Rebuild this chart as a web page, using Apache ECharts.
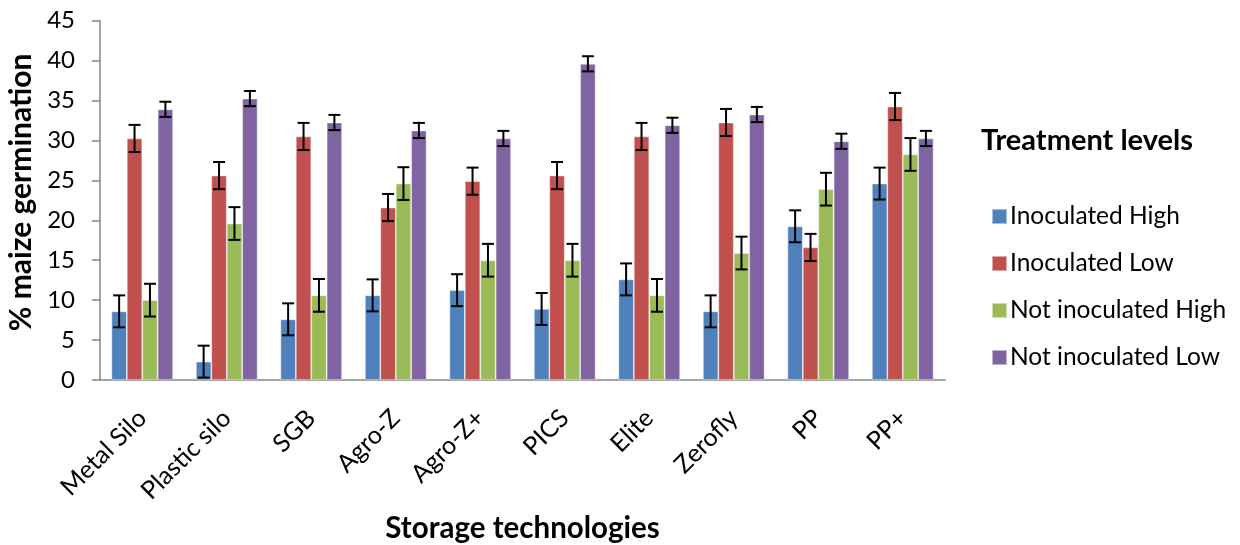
<!DOCTYPE html>
<html><head><meta charset="utf-8">
<script src="https://cdn.jsdelivr.net/npm/echarts@6/dist/echarts.min.js"></script>
<style>html,body{margin:0;padding:0;background:#fff}#c{width:1240px;height:545px}</style>
</head><body><div id="c"></div>
<script>
const categories = ['Metal Silo','Plastic silo','SGB','Agro-Z','Agro-Z+','PICS','Elite','Zerofly','PP','PP+'];
const seriesNames = ['Inoculated High','Inoculated Low','Not inoculated High','Not inoculated Low'];
const colors = ['#4F81BD','#C0504D','#9BBB59','#8064A2'];
const inocHigh = [8.6, 2.3, 7.6, 10.6, 11.25, 8.9, 12.6, 8.6, 19.25, 24.6];
const inocLow = [30.25, 25.6, 30.5, 21.6, 24.9, 25.6, 30.5, 32.25, 16.6, 34.25];
const notInocHigh = [10, 19.6, 10.6, 24.6, 15, 15, 10.6, 15.9, 23.9, 28.25];
const notInocLow = [33.9, 35.25, 32.25, 31.25, 30.25, 39.6, 31.9, 33.25, 29.9, 30.25];
const errInocHigh = [2,2,2,2,2,2,2,2,2,2];
const errInocLow = [1.7,1.7,1.7,1.7,1.7,1.7,1.7,1.7,1.7,1.7];
const errNotInocHigh = [2.05,2.05,2.05,2.05,2.05,2.05,2.05,2.05,2.05,2.05];
const errNotInocLow = [0.95,0.95,0.95,0.95,0.95,0.95,0.95,0.95,0.95,0.95];
const yTicks = {min:0, max:45, interval:5};

const values = [inocHigh, inocLow, notInocHigh, notInocLow];
const errors = [errInocHigh, errInocLow, errNotInocHigh, errNotInocLow];
const catGap = 0.27;
const FONT = 'Lato';

const chart = echarts.init(document.getElementById('c'));
const series = [];
values.forEach((v, i) => {
  series.push({
    name: seriesNames[i], type: 'bar', data: v,
    barGap: '0%', barCategoryGap: (catGap*100)+'%',
    itemStyle: {color: colors[i], borderColor: 'rgba(255,255,255,0.5)', borderWidth: 0.8},
    z: 2
  });
});
values.forEach((v, i) => {
  series.push({
    type: 'custom', silent: true, z: 5,
    data: v.map((val, k) => [k, val, errors[i][k]]),
    renderItem: function (params, api) {
      const k = api.value(0), val = api.value(1), e = api.value(2);
      const bw = api.size([1, 0])[0] * (1 - catGap) / 4;
      const c = api.coord([k, val]);
      const x = c[0] + (i - 1.5) * bw;
      const hi = api.coord([k, val + e])[1];
      const lo = api.coord([k, val - e])[1];
      const cap = 6;
      const st = {stroke: '#000', lineWidth: 2};
      return {type: 'group', children: [
        {type: 'line', shape: {x1: x, y1: hi, x2: x, y2: lo}, style: st},
        {type: 'line', shape: {x1: x - cap, y1: hi, x2: x + cap, y2: hi}, style: st},
        {type: 'line', shape: {x1: x - cap, y1: lo, x2: x + cap, y2: lo}, style: st}
      ]};
    }
  });
});

chart.setOption({
  animation: false,
  textStyle: {fontFamily: FONT},
  grid: {left: 100, right: 295, top: 20.7, bottom: 165, containLabel: false, outerBoundsMode: 'none'},
  title: {text: 'Treatment levels', left: 976, top: 121,
    textStyle: {fontFamily: FONT, fontWeight: 'bold', fontSize: 29, color: '#000'}},
  legend: {
    orient: 'vertical', left: 986, top: 199, itemGap: 22, itemWidth: 15, itemHeight: 15,
    icon: 'rect', data: seriesNames,
    textStyle: {fontFamily: FONT, fontSize: 24.5, color: '#000', padding: [0,0,0,-2]}
  },
  xAxis: {
    type: 'category', data: categories,
    axisLine: {lineStyle: {color: '#868686', width: 1.5}},
    axisTick: {show: false},
    axisLabel: {rotate: 45, fontSize: 25, color: '#000', margin: 34, interval: 0, fontFamily: FONT},
    name: 'Storage technologies', nameLocation: 'middle', nameGap: 133,
    nameTextStyle: {fontSize: 29.5, fontWeight: 'bold', color: '#000', fontFamily: FONT}
  },
  yAxis: {
    type: 'value', min: yTicks.min, max: yTicks.max, interval: yTicks.interval,
    splitLine: {show: false},
    axisLine: {show: true, lineStyle: {color: '#868686', width: 1.5}},
    axisTick: {show: true, length: 8, lineStyle: {color: '#868686', width: 1.5}},
    axisLabel: {fontSize: 24, color: '#000', margin: 25, fontFamily: FONT},
    name: '% maize germination', nameLocation: 'middle', nameGap: 64, nameRotate: 90,
    nameTextStyle: {fontSize: 30, fontWeight: 'bold', color: '#000', fontFamily: FONT, padding: [0,0,0,16]}
  },
  series: series
});
</script></body></html>
